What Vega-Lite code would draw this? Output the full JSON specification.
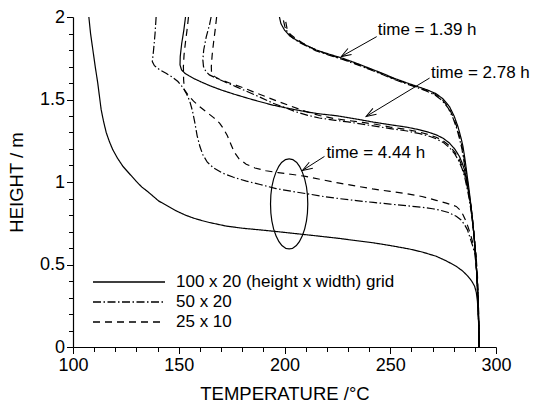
{
  "$schema": "https://vega.github.io/schema/vega-lite/v6.json",
  "width": 423,
  "height": 330,
  "autosize": "none",
  "padding": {"left": 73, "top": 17, "right": 46, "bottom": 59},
  "background": "white",
  "config": {
    "view": {"stroke": null},
    "font": "Liberation Sans",
    "axis": {
      "grid": false,
      "domainColor": "black",
      "domainWidth": 1.2,
      "tickColor": "black",
      "tickWidth": 1,
      "labelColor": "black",
      "labelFont": "Liberation Sans",
      "labelFontSize": 18,
      "labelFlush": false,
      "labelOverlap": false,
      "titleColor": "black",
      "titleFont": "Liberation Sans",
      "titleFontSize": 18.5,
      "titleFontWeight": "normal"
    },
    "legend": {
      "labelFont": "Liberation Sans",
      "labelFontSize": 17,
      "labelColor": "black"
    }
  },
  "resolve": {"axis": {"x": "independent", "y": "independent"}},
  "datasets": {
    "arrows": [
      {"T": 243.6, "H": 1.881, "T2": 226.8, "H2": 1.76},
      {"T": 268.6, "H": 1.63, "T2": 238.6, "H2": 1.397},
      {"T": 218.9, "H": 1.155, "T2": 208.5, "H2": 1.07}
    ]
  },
  "layer": [
    {
      "data": {"values": [
        {"grid": "100 x 20 (height x width) grid", "time": "1.39", "T": 197.6, "H": 2.0},
        {"grid": "100 x 20 (height x width) grid", "time": "1.39", "T": 198.3, "H": 1.96},
        {"grid": "100 x 20 (height x width) grid", "time": "1.39", "T": 200, "H": 1.921},
        {"grid": "100 x 20 (height x width) grid", "time": "1.39", "T": 202.5, "H": 1.885},
        {"grid": "100 x 20 (height x width) grid", "time": "1.39", "T": 205.5, "H": 1.861},
        {"grid": "100 x 20 (height x width) grid", "time": "1.39", "T": 210, "H": 1.83},
        {"grid": "100 x 20 (height x width) grid", "time": "1.39", "T": 215, "H": 1.80},
        {"grid": "100 x 20 (height x width) grid", "time": "1.39", "T": 221, "H": 1.775},
        {"grid": "100 x 20 (height x width) grid", "time": "1.39", "T": 227.5, "H": 1.75},
        {"grid": "100 x 20 (height x width) grid", "time": "1.39", "T": 234, "H": 1.72},
        {"grid": "100 x 20 (height x width) grid", "time": "1.39", "T": 240, "H": 1.69},
        {"grid": "100 x 20 (height x width) grid", "time": "1.39", "T": 246, "H": 1.66},
        {"grid": "100 x 20 (height x width) grid", "time": "1.39", "T": 252, "H": 1.628},
        {"grid": "100 x 20 (height x width) grid", "time": "1.39", "T": 258, "H": 1.6},
        {"grid": "100 x 20 (height x width) grid", "time": "1.39", "T": 263, "H": 1.578},
        {"grid": "100 x 20 (height x width) grid", "time": "1.39", "T": 267.5, "H": 1.558},
        {"grid": "100 x 20 (height x width) grid", "time": "1.39", "T": 271.7, "H": 1.535},
        {"grid": "100 x 20 (height x width) grid", "time": "1.39", "T": 275, "H": 1.503},
        {"grid": "100 x 20 (height x width) grid", "time": "1.39", "T": 278, "H": 1.457},
        {"grid": "100 x 20 (height x width) grid", "time": "1.39", "T": 280.2, "H": 1.40},
        {"grid": "100 x 20 (height x width) grid", "time": "1.39", "T": 282, "H": 1.336},
        {"grid": "100 x 20 (height x width) grid", "time": "1.39", "T": 283.4, "H": 1.27},
        {"grid": "100 x 20 (height x width) grid", "time": "1.39", "T": 284.4, "H": 1.215},
        {"grid": "100 x 20 (height x width) grid", "time": "1.39", "T": 285.3, "H": 1.14},
        {"grid": "100 x 20 (height x width) grid", "time": "1.39", "T": 286, "H": 1.074},
        {"grid": "100 x 20 (height x width) grid", "time": "1.39", "T": 287.3, "H": 0.95},
        {"grid": "100 x 20 (height x width) grid", "time": "1.39", "T": 288.5, "H": 0.82},
        {"grid": "100 x 20 (height x width) grid", "time": "1.39", "T": 289.5, "H": 0.69},
        {"grid": "100 x 20 (height x width) grid", "time": "1.39", "T": 290.4, "H": 0.56},
        {"grid": "100 x 20 (height x width) grid", "time": "1.39", "T": 291, "H": 0.42},
        {"grid": "100 x 20 (height x width) grid", "time": "1.39", "T": 291.5, "H": 0.28},
        {"grid": "100 x 20 (height x width) grid", "time": "1.39", "T": 291.9, "H": 0.1},
        {"grid": "100 x 20 (height x width) grid", "time": "1.39", "T": 292, "H": 0.0},

        {"grid": "50 x 20", "time": "1.39", "T": 199.5, "H": 1.98},
        {"grid": "50 x 20", "time": "1.39", "T": 200.2, "H": 1.94},
        {"grid": "50 x 20", "time": "1.39", "T": 201.7, "H": 1.90},
        {"grid": "50 x 20", "time": "1.39", "T": 204.2, "H": 1.87},
        {"grid": "50 x 20", "time": "1.39", "T": 207.2, "H": 1.845},
        {"grid": "50 x 20", "time": "1.39", "T": 211, "H": 1.82},
        {"grid": "50 x 20", "time": "1.39", "T": 215, "H": 1.795},
        {"grid": "50 x 20", "time": "1.39", "T": 221, "H": 1.769},
        {"grid": "50 x 20", "time": "1.39", "T": 227.5, "H": 1.743},
        {"grid": "50 x 20", "time": "1.39", "T": 234, "H": 1.713},
        {"grid": "50 x 20", "time": "1.39", "T": 240, "H": 1.683},
        {"grid": "50 x 20", "time": "1.39", "T": 246, "H": 1.653},
        {"grid": "50 x 20", "time": "1.39", "T": 252, "H": 1.621},
        {"grid": "50 x 20", "time": "1.39", "T": 258, "H": 1.593},
        {"grid": "50 x 20", "time": "1.39", "T": 263, "H": 1.571},
        {"grid": "50 x 20", "time": "1.39", "T": 267.3, "H": 1.55},
        {"grid": "50 x 20", "time": "1.39", "T": 271.3, "H": 1.526},
        {"grid": "50 x 20", "time": "1.39", "T": 274.5, "H": 1.494},
        {"grid": "50 x 20", "time": "1.39", "T": 277.4, "H": 1.448},
        {"grid": "50 x 20", "time": "1.39", "T": 279.6, "H": 1.39},
        {"grid": "50 x 20", "time": "1.39", "T": 281.4, "H": 1.326},
        {"grid": "50 x 20", "time": "1.39", "T": 282.8, "H": 1.26},
        {"grid": "50 x 20", "time": "1.39", "T": 283.9, "H": 1.20},
        {"grid": "50 x 20", "time": "1.39", "T": 284.8, "H": 1.13},
        {"grid": "50 x 20", "time": "1.39", "T": 285.6, "H": 1.06},
        {"grid": "50 x 20", "time": "1.39", "T": 287, "H": 0.95},
        {"grid": "50 x 20", "time": "1.39", "T": 288.5, "H": 0.82},
        {"grid": "50 x 20", "time": "1.39", "T": 289.5, "H": 0.69},
        {"grid": "50 x 20", "time": "1.39", "T": 290.4, "H": 0.56},
        {"grid": "50 x 20", "time": "1.39", "T": 291, "H": 0.42},
        {"grid": "50 x 20", "time": "1.39", "T": 291.5, "H": 0.28},
        {"grid": "50 x 20", "time": "1.39", "T": 291.9, "H": 0.1},
        {"grid": "50 x 20", "time": "1.39", "T": 292, "H": 0.0},

        {"grid": "25 x 10", "time": "1.39", "T": 200.6, "H": 1.97},
        {"grid": "25 x 10", "time": "1.39", "T": 201.2, "H": 1.93},
        {"grid": "25 x 10", "time": "1.39", "T": 202.7, "H": 1.895},
        {"grid": "25 x 10", "time": "1.39", "T": 205.2, "H": 1.87},
        {"grid": "25 x 10", "time": "1.39", "T": 208.2, "H": 1.845},
        {"grid": "25 x 10", "time": "1.39", "T": 211.7, "H": 1.82},
        {"grid": "25 x 10", "time": "1.39", "T": 215.5, "H": 1.797},
        {"grid": "25 x 10", "time": "1.39", "T": 221, "H": 1.771},
        {"grid": "25 x 10", "time": "1.39", "T": 227.5, "H": 1.746},
        {"grid": "25 x 10", "time": "1.39", "T": 234, "H": 1.716},
        {"grid": "25 x 10", "time": "1.39", "T": 240, "H": 1.686},
        {"grid": "25 x 10", "time": "1.39", "T": 246, "H": 1.656},
        {"grid": "25 x 10", "time": "1.39", "T": 252, "H": 1.624},
        {"grid": "25 x 10", "time": "1.39", "T": 258, "H": 1.596},
        {"grid": "25 x 10", "time": "1.39", "T": 263, "H": 1.574},
        {"grid": "25 x 10", "time": "1.39", "T": 267.4, "H": 1.553},
        {"grid": "25 x 10", "time": "1.39", "T": 271.5, "H": 1.53},
        {"grid": "25 x 10", "time": "1.39", "T": 274.7, "H": 1.498},
        {"grid": "25 x 10", "time": "1.39", "T": 277.6, "H": 1.452},
        {"grid": "25 x 10", "time": "1.39", "T": 279.8, "H": 1.394},
        {"grid": "25 x 10", "time": "1.39", "T": 281.6, "H": 1.33},
        {"grid": "25 x 10", "time": "1.39", "T": 283, "H": 1.264},
        {"grid": "25 x 10", "time": "1.39", "T": 284.1, "H": 1.207},
        {"grid": "25 x 10", "time": "1.39", "T": 285, "H": 1.135},
        {"grid": "25 x 10", "time": "1.39", "T": 285.8, "H": 1.066},
        {"grid": "25 x 10", "time": "1.39", "T": 287.1, "H": 0.95},
        {"grid": "25 x 10", "time": "1.39", "T": 288.5, "H": 0.82},
        {"grid": "25 x 10", "time": "1.39", "T": 289.5, "H": 0.69},
        {"grid": "25 x 10", "time": "1.39", "T": 290.4, "H": 0.56},
        {"grid": "25 x 10", "time": "1.39", "T": 291, "H": 0.42},
        {"grid": "25 x 10", "time": "1.39", "T": 291.5, "H": 0.28},
        {"grid": "25 x 10", "time": "1.39", "T": 291.9, "H": 0.1},
        {"grid": "25 x 10", "time": "1.39", "T": 292, "H": 0.0},

        {"grid": "100 x 20 (height x width) grid", "time": "2.78", "T": 153.2, "H": 2.0},
        {"grid": "100 x 20 (height x width) grid", "time": "2.78", "T": 152.4, "H": 1.92},
        {"grid": "100 x 20 (height x width) grid", "time": "2.78", "T": 151.4, "H": 1.84},
        {"grid": "100 x 20 (height x width) grid", "time": "2.78", "T": 150.7, "H": 1.76},
        {"grid": "100 x 20 (height x width) grid", "time": "2.78", "T": 150.6, "H": 1.71},
        {"grid": "100 x 20 (height x width) grid", "time": "2.78", "T": 151.3, "H": 1.68},
        {"grid": "100 x 20 (height x width) grid", "time": "2.78", "T": 152.8, "H": 1.66},
        {"grid": "100 x 20 (height x width) grid", "time": "2.78", "T": 155, "H": 1.643},
        {"grid": "100 x 20 (height x width) grid", "time": "2.78", "T": 157.5, "H": 1.625},
        {"grid": "100 x 20 (height x width) grid", "time": "2.78", "T": 160.5, "H": 1.607},
        {"grid": "100 x 20 (height x width) grid", "time": "2.78", "T": 165, "H": 1.582},
        {"grid": "100 x 20 (height x width) grid", "time": "2.78", "T": 170, "H": 1.558},
        {"grid": "100 x 20 (height x width) grid", "time": "2.78", "T": 176, "H": 1.533},
        {"grid": "100 x 20 (height x width) grid", "time": "2.78", "T": 182, "H": 1.51},
        {"grid": "100 x 20 (height x width) grid", "time": "2.78", "T": 188, "H": 1.488},
        {"grid": "100 x 20 (height x width) grid", "time": "2.78", "T": 194.5, "H": 1.466},
        {"grid": "100 x 20 (height x width) grid", "time": "2.78", "T": 200, "H": 1.451},
        {"grid": "100 x 20 (height x width) grid", "time": "2.78", "T": 205.5, "H": 1.437},
        {"grid": "100 x 20 (height x width) grid", "time": "2.78", "T": 211, "H": 1.424},
        {"grid": "100 x 20 (height x width) grid", "time": "2.78", "T": 216.5, "H": 1.413},
        {"grid": "100 x 20 (height x width) grid", "time": "2.78", "T": 224.4, "H": 1.402},
        {"grid": "100 x 20 (height x width) grid", "time": "2.78", "T": 230, "H": 1.39},
        {"grid": "100 x 20 (height x width) grid", "time": "2.78", "T": 236, "H": 1.377},
        {"grid": "100 x 20 (height x width) grid", "time": "2.78", "T": 242, "H": 1.363},
        {"grid": "100 x 20 (height x width) grid", "time": "2.78", "T": 250, "H": 1.347},
        {"grid": "100 x 20 (height x width) grid", "time": "2.78", "T": 258, "H": 1.332},
        {"grid": "100 x 20 (height x width) grid", "time": "2.78", "T": 264, "H": 1.316},
        {"grid": "100 x 20 (height x width) grid", "time": "2.78", "T": 268.5, "H": 1.30},
        {"grid": "100 x 20 (height x width) grid", "time": "2.78", "T": 271.7, "H": 1.286},
        {"grid": "100 x 20 (height x width) grid", "time": "2.78", "T": 275, "H": 1.265},
        {"grid": "100 x 20 (height x width) grid", "time": "2.78", "T": 278, "H": 1.236},
        {"grid": "100 x 20 (height x width) grid", "time": "2.78", "T": 280.5, "H": 1.20},
        {"grid": "100 x 20 (height x width) grid", "time": "2.78", "T": 282.7, "H": 1.155},
        {"grid": "100 x 20 (height x width) grid", "time": "2.78", "T": 284, "H": 1.115},
        {"grid": "100 x 20 (height x width) grid", "time": "2.78", "T": 285.1, "H": 1.074},
        {"grid": "100 x 20 (height x width) grid", "time": "2.78", "T": 286.2, "H": 1.0},
        {"grid": "100 x 20 (height x width) grid", "time": "2.78", "T": 287.3, "H": 0.92},
        {"grid": "100 x 20 (height x width) grid", "time": "2.78", "T": 288.5, "H": 0.82},
        {"grid": "100 x 20 (height x width) grid", "time": "2.78", "T": 289.5, "H": 0.69},
        {"grid": "100 x 20 (height x width) grid", "time": "2.78", "T": 290.4, "H": 0.56},
        {"grid": "100 x 20 (height x width) grid", "time": "2.78", "T": 291, "H": 0.42},
        {"grid": "100 x 20 (height x width) grid", "time": "2.78", "T": 291.5, "H": 0.28},
        {"grid": "100 x 20 (height x width) grid", "time": "2.78", "T": 291.9, "H": 0.1},
        {"grid": "100 x 20 (height x width) grid", "time": "2.78", "T": 292, "H": 0.0},

        {"grid": "50 x 20", "time": "2.78", "T": 165.3, "H": 2.0},
        {"grid": "50 x 20", "time": "2.78", "T": 164.5, "H": 1.95},
        {"grid": "50 x 20", "time": "2.78", "T": 163, "H": 1.88},
        {"grid": "50 x 20", "time": "2.78", "T": 161.8, "H": 1.80},
        {"grid": "50 x 20", "time": "2.78", "T": 161.4, "H": 1.74},
        {"grid": "50 x 20", "time": "2.78", "T": 161.7, "H": 1.70},
        {"grid": "50 x 20", "time": "2.78", "T": 162.8, "H": 1.67},
        {"grid": "50 x 20", "time": "2.78", "T": 164.5, "H": 1.649},
        {"grid": "50 x 20", "time": "2.78", "T": 168, "H": 1.628},
        {"grid": "50 x 20", "time": "2.78", "T": 172.4, "H": 1.603},
        {"grid": "50 x 20", "time": "2.78", "T": 177, "H": 1.578},
        {"grid": "50 x 20", "time": "2.78", "T": 182, "H": 1.55},
        {"grid": "50 x 20", "time": "2.78", "T": 188.2, "H": 1.515},
        {"grid": "50 x 20", "time": "2.78", "T": 194.5, "H": 1.478},
        {"grid": "50 x 20", "time": "2.78", "T": 200, "H": 1.452},
        {"grid": "50 x 20", "time": "2.78", "T": 205.5, "H": 1.425},
        {"grid": "50 x 20", "time": "2.78", "T": 211, "H": 1.404},
        {"grid": "50 x 20", "time": "2.78", "T": 216.5, "H": 1.388},
        {"grid": "50 x 20", "time": "2.78", "T": 224, "H": 1.374},
        {"grid": "50 x 20", "time": "2.78", "T": 230, "H": 1.364},
        {"grid": "50 x 20", "time": "2.78", "T": 236, "H": 1.352},
        {"grid": "50 x 20", "time": "2.78", "T": 242, "H": 1.34},
        {"grid": "50 x 20", "time": "2.78", "T": 250, "H": 1.324},
        {"grid": "50 x 20", "time": "2.78", "T": 258, "H": 1.309},
        {"grid": "50 x 20", "time": "2.78", "T": 264, "H": 1.293},
        {"grid": "50 x 20", "time": "2.78", "T": 268.5, "H": 1.277},
        {"grid": "50 x 20", "time": "2.78", "T": 271.7, "H": 1.262},
        {"grid": "50 x 20", "time": "2.78", "T": 275, "H": 1.24},
        {"grid": "50 x 20", "time": "2.78", "T": 278, "H": 1.208},
        {"grid": "50 x 20", "time": "2.78", "T": 280.5, "H": 1.17},
        {"grid": "50 x 20", "time": "2.78", "T": 282.5, "H": 1.125},
        {"grid": "50 x 20", "time": "2.78", "T": 284, "H": 1.08},
        {"grid": "50 x 20", "time": "2.78", "T": 285.2, "H": 1.03},
        {"grid": "50 x 20", "time": "2.78", "T": 286.2, "H": 0.97},
        {"grid": "50 x 20", "time": "2.78", "T": 287.3, "H": 0.9},
        {"grid": "50 x 20", "time": "2.78", "T": 288.5, "H": 0.8},
        {"grid": "50 x 20", "time": "2.78", "T": 289.5, "H": 0.69},
        {"grid": "50 x 20", "time": "2.78", "T": 290.4, "H": 0.56},
        {"grid": "50 x 20", "time": "2.78", "T": 291, "H": 0.42},
        {"grid": "50 x 20", "time": "2.78", "T": 291.5, "H": 0.28},
        {"grid": "50 x 20", "time": "2.78", "T": 291.9, "H": 0.1},
        {"grid": "50 x 20", "time": "2.78", "T": 292, "H": 0.0},

        {"grid": "25 x 10", "time": "2.78", "T": 167.9, "H": 2.0},
        {"grid": "25 x 10", "time": "2.78", "T": 167.3, "H": 1.93},
        {"grid": "25 x 10", "time": "2.78", "T": 166.5, "H": 1.85},
        {"grid": "25 x 10", "time": "2.78", "T": 165.8, "H": 1.77},
        {"grid": "25 x 10", "time": "2.78", "T": 165.4, "H": 1.70},
        {"grid": "25 x 10", "time": "2.78", "T": 165.5, "H": 1.66},
        {"grid": "25 x 10", "time": "2.78", "T": 166.8, "H": 1.64},
        {"grid": "25 x 10", "time": "2.78", "T": 169.3, "H": 1.622},
        {"grid": "25 x 10", "time": "2.78", "T": 174, "H": 1.6},
        {"grid": "25 x 10", "time": "2.78", "T": 180.3, "H": 1.572},
        {"grid": "25 x 10", "time": "2.78", "T": 185, "H": 1.548},
        {"grid": "25 x 10", "time": "2.78", "T": 191, "H": 1.518},
        {"grid": "25 x 10", "time": "2.78", "T": 197, "H": 1.488},
        {"grid": "25 x 10", "time": "2.78", "T": 203, "H": 1.46},
        {"grid": "25 x 10", "time": "2.78", "T": 210, "H": 1.428},
        {"grid": "25 x 10", "time": "2.78", "T": 216.5, "H": 1.403},
        {"grid": "25 x 10", "time": "2.78", "T": 223, "H": 1.386},
        {"grid": "25 x 10", "time": "2.78", "T": 230, "H": 1.373},
        {"grid": "25 x 10", "time": "2.78", "T": 237, "H": 1.361},
        {"grid": "25 x 10", "time": "2.78", "T": 243, "H": 1.35},
        {"grid": "25 x 10", "time": "2.78", "T": 250, "H": 1.333},
        {"grid": "25 x 10", "time": "2.78", "T": 258, "H": 1.318},
        {"grid": "25 x 10", "time": "2.78", "T": 264, "H": 1.302},
        {"grid": "25 x 10", "time": "2.78", "T": 268.5, "H": 1.286},
        {"grid": "25 x 10", "time": "2.78", "T": 271.7, "H": 1.271},
        {"grid": "25 x 10", "time": "2.78", "T": 275, "H": 1.25},
        {"grid": "25 x 10", "time": "2.78", "T": 278, "H": 1.219},
        {"grid": "25 x 10", "time": "2.78", "T": 280.5, "H": 1.181},
        {"grid": "25 x 10", "time": "2.78", "T": 282.6, "H": 1.137},
        {"grid": "25 x 10", "time": "2.78", "T": 284.1, "H": 1.09},
        {"grid": "25 x 10", "time": "2.78", "T": 285.3, "H": 1.04},
        {"grid": "25 x 10", "time": "2.78", "T": 286.3, "H": 0.98},
        {"grid": "25 x 10", "time": "2.78", "T": 287.4, "H": 0.905},
        {"grid": "25 x 10", "time": "2.78", "T": 288.5, "H": 0.81},
        {"grid": "25 x 10", "time": "2.78", "T": 289.5, "H": 0.69},
        {"grid": "25 x 10", "time": "2.78", "T": 290.4, "H": 0.56},
        {"grid": "25 x 10", "time": "2.78", "T": 291, "H": 0.42},
        {"grid": "25 x 10", "time": "2.78", "T": 291.5, "H": 0.28},
        {"grid": "25 x 10", "time": "2.78", "T": 291.9, "H": 0.1},
        {"grid": "25 x 10", "time": "2.78", "T": 292, "H": 0.0},

        {"grid": "100 x 20 (height x width) grid", "time": "4.44", "T": 107.5, "H": 2.0},
        {"grid": "100 x 20 (height x width) grid", "time": "4.44", "T": 108.3, "H": 1.9},
        {"grid": "100 x 20 (height x width) grid", "time": "4.44", "T": 109.4, "H": 1.8},
        {"grid": "100 x 20 (height x width) grid", "time": "4.44", "T": 110.5, "H": 1.7},
        {"grid": "100 x 20 (height x width) grid", "time": "4.44", "T": 111.7, "H": 1.6},
        {"grid": "100 x 20 (height x width) grid", "time": "4.44", "T": 112.5, "H": 1.52},
        {"grid": "100 x 20 (height x width) grid", "time": "4.44", "T": 113.3, "H": 1.44},
        {"grid": "100 x 20 (height x width) grid", "time": "4.44", "T": 114.4, "H": 1.37},
        {"grid": "100 x 20 (height x width) grid", "time": "4.44", "T": 115.7, "H": 1.30},
        {"grid": "100 x 20 (height x width) grid", "time": "4.44", "T": 117.2, "H": 1.245},
        {"grid": "100 x 20 (height x width) grid", "time": "4.44", "T": 118.8, "H": 1.196},
        {"grid": "100 x 20 (height x width) grid", "time": "4.44", "T": 121, "H": 1.145},
        {"grid": "100 x 20 (height x width) grid", "time": "4.44", "T": 123.6, "H": 1.095},
        {"grid": "100 x 20 (height x width) grid", "time": "4.44", "T": 126.7, "H": 1.05},
        {"grid": "100 x 20 (height x width) grid", "time": "4.44", "T": 129.9, "H": 1.004},
        {"grid": "100 x 20 (height x width) grid", "time": "4.44", "T": 132.5, "H": 0.97},
        {"grid": "100 x 20 (height x width) grid", "time": "4.44", "T": 135.5, "H": 0.94},
        {"grid": "100 x 20 (height x width) grid", "time": "4.44", "T": 140.5, "H": 0.885},
        {"grid": "100 x 20 (height x width) grid", "time": "4.44", "T": 145.6, "H": 0.848},
        {"grid": "100 x 20 (height x width) grid", "time": "4.44", "T": 149, "H": 0.824},
        {"grid": "100 x 20 (height x width) grid", "time": "4.44", "T": 153, "H": 0.80},
        {"grid": "100 x 20 (height x width) grid", "time": "4.44", "T": 157, "H": 0.781},
        {"grid": "100 x 20 (height x width) grid", "time": "4.44", "T": 161, "H": 0.766},
        {"grid": "100 x 20 (height x width) grid", "time": "4.44", "T": 165, "H": 0.753},
        {"grid": "100 x 20 (height x width) grid", "time": "4.44", "T": 172.4, "H": 0.733},
        {"grid": "100 x 20 (height x width) grid", "time": "4.44", "T": 180, "H": 0.72},
        {"grid": "100 x 20 (height x width) grid", "time": "4.44", "T": 188.2, "H": 0.71},
        {"grid": "100 x 20 (height x width) grid", "time": "4.44", "T": 196, "H": 0.70},
        {"grid": "100 x 20 (height x width) grid", "time": "4.44", "T": 204, "H": 0.689},
        {"grid": "100 x 20 (height x width) grid", "time": "4.44", "T": 212, "H": 0.678},
        {"grid": "100 x 20 (height x width) grid", "time": "4.44", "T": 219, "H": 0.668},
        {"grid": "100 x 20 (height x width) grid", "time": "4.44", "T": 226, "H": 0.658},
        {"grid": "100 x 20 (height x width) grid", "time": "4.44", "T": 233, "H": 0.646},
        {"grid": "100 x 20 (height x width) grid", "time": "4.44", "T": 241.7, "H": 0.632},
        {"grid": "100 x 20 (height x width) grid", "time": "4.44", "T": 250, "H": 0.615},
        {"grid": "100 x 20 (height x width) grid", "time": "4.44", "T": 259, "H": 0.594},
        {"grid": "100 x 20 (height x width) grid", "time": "4.44", "T": 265, "H": 0.576},
        {"grid": "100 x 20 (height x width) grid", "time": "4.44", "T": 271.7, "H": 0.55},
        {"grid": "100 x 20 (height x width) grid", "time": "4.44", "T": 276.5, "H": 0.522},
        {"grid": "100 x 20 (height x width) grid", "time": "4.44", "T": 281.2, "H": 0.489},
        {"grid": "100 x 20 (height x width) grid", "time": "4.44", "T": 284.3, "H": 0.46},
        {"grid": "100 x 20 (height x width) grid", "time": "4.44", "T": 286.7, "H": 0.429},
        {"grid": "100 x 20 (height x width) grid", "time": "4.44", "T": 288.5, "H": 0.40},
        {"grid": "100 x 20 (height x width) grid", "time": "4.44", "T": 289.9, "H": 0.368},
        {"grid": "100 x 20 (height x width) grid", "time": "4.44", "T": 290.7, "H": 0.33},
        {"grid": "100 x 20 (height x width) grid", "time": "4.44", "T": 291.2, "H": 0.28},
        {"grid": "100 x 20 (height x width) grid", "time": "4.44", "T": 291.6, "H": 0.2},
        {"grid": "100 x 20 (height x width) grid", "time": "4.44", "T": 291.9, "H": 0.1},
        {"grid": "100 x 20 (height x width) grid", "time": "4.44", "T": 292, "H": 0.0},

        {"grid": "50 x 20", "time": "4.44", "T": 139.3, "H": 2.0},
        {"grid": "50 x 20", "time": "4.44", "T": 138.8, "H": 1.9},
        {"grid": "50 x 20", "time": "4.44", "T": 138.1, "H": 1.8},
        {"grid": "50 x 20", "time": "4.44", "T": 137.5, "H": 1.73},
        {"grid": "50 x 20", "time": "4.44", "T": 138.5, "H": 1.705},
        {"grid": "50 x 20", "time": "4.44", "T": 141, "H": 1.68},
        {"grid": "50 x 20", "time": "4.44", "T": 144, "H": 1.659},
        {"grid": "50 x 20", "time": "4.44", "T": 147, "H": 1.635},
        {"grid": "50 x 20", "time": "4.44", "T": 149.6, "H": 1.609},
        {"grid": "50 x 20", "time": "4.44", "T": 151.8, "H": 1.575},
        {"grid": "50 x 20", "time": "4.44", "T": 153.5, "H": 1.539},
        {"grid": "50 x 20", "time": "4.44", "T": 155.2, "H": 1.49},
        {"grid": "50 x 20", "time": "4.44", "T": 156.5, "H": 1.43},
        {"grid": "50 x 20", "time": "4.44", "T": 157.6, "H": 1.36},
        {"grid": "50 x 20", "time": "4.44", "T": 158.7, "H": 1.28},
        {"grid": "50 x 20", "time": "4.44", "T": 160, "H": 1.215},
        {"grid": "50 x 20", "time": "4.44", "T": 161.4, "H": 1.165},
        {"grid": "50 x 20", "time": "4.44", "T": 163.5, "H": 1.12},
        {"grid": "50 x 20", "time": "4.44", "T": 166.5, "H": 1.085},
        {"grid": "50 x 20", "time": "4.44", "T": 170.5, "H": 1.055},
        {"grid": "50 x 20", "time": "4.44", "T": 175.6, "H": 1.03},
        {"grid": "50 x 20", "time": "4.44", "T": 182, "H": 1.005},
        {"grid": "50 x 20", "time": "4.44", "T": 188.5, "H": 0.985},
        {"grid": "50 x 20", "time": "4.44", "T": 196, "H": 0.96},
        {"grid": "50 x 20", "time": "4.44", "T": 204, "H": 0.942},
        {"grid": "50 x 20", "time": "4.44", "T": 211, "H": 0.928},
        {"grid": "50 x 20", "time": "4.44", "T": 218.5, "H": 0.912},
        {"grid": "50 x 20", "time": "4.44", "T": 226, "H": 0.899},
        {"grid": "50 x 20", "time": "4.44", "T": 234, "H": 0.887},
        {"grid": "50 x 20", "time": "4.44", "T": 242, "H": 0.876},
        {"grid": "50 x 20", "time": "4.44", "T": 250, "H": 0.866},
        {"grid": "50 x 20", "time": "4.44", "T": 258, "H": 0.856},
        {"grid": "50 x 20", "time": "4.44", "T": 265, "H": 0.847},
        {"grid": "50 x 20", "time": "4.44", "T": 270, "H": 0.838},
        {"grid": "50 x 20", "time": "4.44", "T": 273.3, "H": 0.83},
        {"grid": "50 x 20", "time": "4.44", "T": 277.5, "H": 0.815},
        {"grid": "50 x 20", "time": "4.44", "T": 281.2, "H": 0.792},
        {"grid": "50 x 20", "time": "4.44", "T": 283.5, "H": 0.77},
        {"grid": "50 x 20", "time": "4.44", "T": 285.1, "H": 0.742},
        {"grid": "50 x 20", "time": "4.44", "T": 286.5, "H": 0.71},
        {"grid": "50 x 20", "time": "4.44", "T": 287.5, "H": 0.671},
        {"grid": "50 x 20", "time": "4.44", "T": 288.8, "H": 0.62},
        {"grid": "50 x 20", "time": "4.44", "T": 289.9, "H": 0.57},
        {"grid": "50 x 20", "time": "4.44", "T": 290.7, "H": 0.49},
        {"grid": "50 x 20", "time": "4.44", "T": 291.2, "H": 0.4},
        {"grid": "50 x 20", "time": "4.44", "T": 291.6, "H": 0.28},
        {"grid": "50 x 20", "time": "4.44", "T": 291.9, "H": 0.12},
        {"grid": "50 x 20", "time": "4.44", "T": 292, "H": 0.0},

        {"grid": "25 x 10", "time": "4.44", "T": 154.6, "H": 2.0},
        {"grid": "25 x 10", "time": "4.44", "T": 154, "H": 1.93},
        {"grid": "25 x 10", "time": "4.44", "T": 153.2, "H": 1.85},
        {"grid": "25 x 10", "time": "4.44", "T": 152.5, "H": 1.77},
        {"grid": "25 x 10", "time": "4.44", "T": 152.2, "H": 1.70},
        {"grid": "25 x 10", "time": "4.44", "T": 152.3, "H": 1.62},
        {"grid": "25 x 10", "time": "4.44", "T": 152.7, "H": 1.559},
        {"grid": "25 x 10", "time": "4.44", "T": 154.5, "H": 1.525},
        {"grid": "25 x 10", "time": "4.44", "T": 157, "H": 1.49},
        {"grid": "25 x 10", "time": "4.44", "T": 159.8, "H": 1.458},
        {"grid": "25 x 10", "time": "4.44", "T": 163, "H": 1.425},
        {"grid": "25 x 10", "time": "4.44", "T": 166.5, "H": 1.39},
        {"grid": "25 x 10", "time": "4.44", "T": 169.3, "H": 1.357},
        {"grid": "25 x 10", "time": "4.44", "T": 171.3, "H": 1.32},
        {"grid": "25 x 10", "time": "4.44", "T": 173, "H": 1.28},
        {"grid": "25 x 10", "time": "4.44", "T": 174.6, "H": 1.23},
        {"grid": "25 x 10", "time": "4.44", "T": 176.3, "H": 1.18},
        {"grid": "25 x 10", "time": "4.44", "T": 178.5, "H": 1.14},
        {"grid": "25 x 10", "time": "4.44", "T": 181.9, "H": 1.108},
        {"grid": "25 x 10", "time": "4.44", "T": 186, "H": 1.085},
        {"grid": "25 x 10", "time": "4.44", "T": 191.3, "H": 1.068},
        {"grid": "25 x 10", "time": "4.44", "T": 197, "H": 1.057},
        {"grid": "25 x 10", "time": "4.44", "T": 203, "H": 1.047},
        {"grid": "25 x 10", "time": "4.44", "T": 210, "H": 1.034},
        {"grid": "25 x 10", "time": "4.44", "T": 218, "H": 1.013},
        {"grid": "25 x 10", "time": "4.44", "T": 226, "H": 0.993},
        {"grid": "25 x 10", "time": "4.44", "T": 234, "H": 0.975},
        {"grid": "25 x 10", "time": "4.44", "T": 241.7, "H": 0.958},
        {"grid": "25 x 10", "time": "4.44", "T": 250, "H": 0.943},
        {"grid": "25 x 10", "time": "4.44", "T": 258, "H": 0.929},
        {"grid": "25 x 10", "time": "4.44", "T": 265, "H": 0.912},
        {"grid": "25 x 10", "time": "4.44", "T": 271.7, "H": 0.889},
        {"grid": "25 x 10", "time": "4.44", "T": 276.5, "H": 0.872},
        {"grid": "25 x 10", "time": "4.44", "T": 281.2, "H": 0.852},
        {"grid": "25 x 10", "time": "4.44", "T": 283, "H": 0.83},
        {"grid": "25 x 10", "time": "4.44", "T": 284.4, "H": 0.802},
        {"grid": "25 x 10", "time": "4.44", "T": 285.7, "H": 0.765},
        {"grid": "25 x 10", "time": "4.44", "T": 286.7, "H": 0.731},
        {"grid": "25 x 10", "time": "4.44", "T": 288, "H": 0.68},
        {"grid": "25 x 10", "time": "4.44", "T": 289.1, "H": 0.63},
        {"grid": "25 x 10", "time": "4.44", "T": 290, "H": 0.58},
        {"grid": "25 x 10", "time": "4.44", "T": 290.7, "H": 0.53},
        {"grid": "25 x 10", "time": "4.44", "T": 291.2, "H": 0.44},
        {"grid": "25 x 10", "time": "4.44", "T": 291.6, "H": 0.32},
        {"grid": "25 x 10", "time": "4.44", "T": 291.9, "H": 0.15},
        {"grid": "25 x 10", "time": "4.44", "T": 292, "H": 0.0}
      ]},
      "mark": {"type": "line", "color": "black", "strokeWidth": 1.2, "clip": true},
      "encoding": {
        "x": {
          "field": "T",
          "type": "quantitative",
          "scale": {"domain": [100, 300], "nice": false, "zero": false},
          "axis": {
            "title": "TEMPERATURE /°C",
            "values": [100, 150, 200, 250, 300],
            "format": "d",
            "tickSize": 6.5,
            "labelPadding": 3,
            "titlePadding": 10
          }
        },
        "y": {
          "field": "H",
          "type": "quantitative",
          "scale": {"domain": [0, 2], "nice": false, "zero": false},
          "axis": {
            "title": "HEIGHT / m",
            "values": [0, 0.5, 1, 1.5, 2],
            "format": "~g",
            "tickSize": 6.5,
            "labelPadding": 2,
            "titlePadding": 13
          }
        },
        "detail": {"field": "time", "type": "nominal"},
        "order": {"field": "H", "sort": "descending"},
        "strokeDash": {
          "field": "grid",
          "type": "nominal",
          "scale": {
            "domain": ["100 x 20 (height x width) grid", "50 x 20", "25 x 10"],
            "range": [[1, 0], [8, 2.5, 1.5, 2.5], [7, 5]]
          },
          "legend": {
            "title": null,
            "orient": "bottom-left",
            "offset": 17,
            "padding": 0,
            "rowPadding": 2,
            "symbolType": "M-4,0H4",
            "symbolSize": 324,
            "symbolOffset": 29,
            "labelOffset": 37,
            "symbolStrokeColor": "black",
            "symbolFillColor": "transparent",
            "symbolStrokeWidth": 1.3,
            "labelFontSize": 17,
            "labelLimit": 400
          }
        }
      }
    },
    {
      "data": {"values": [{"T": 202.2, "H": 0.867}]},
      "mark": {
        "type": "point",
        "filled": false,
        "stroke": "black",
        "strokeWidth": 1.2,
        "opacity": 1,
        "shape": "M0,-1C0.2287,-1 0.414,-0.5523 0.414,0C0.414,0.5523 0.2287,1 0,1C-0.2287,1 -0.414,0.5523 -0.414,0C-0.414,-0.5523 -0.2287,-1 0,-1Z",
        "size": 8100
      },
      "encoding": {
        "x": {
          "field": "T",
          "type": "quantitative",
          "axis": {
            "orient": "bottom",
            "values": [110,120,130,140,160,170,180,190,210,220,230,240,260,270,280,290],
            "labels": false,
            "title": null,
            "domain": false,
            "tickSize": 4.5
          }
        },
        "y": {
          "field": "H",
          "type": "quantitative",
          "axis": {
            "orient": "left",
            "values": [0.1,0.2,0.3,0.4,0.6,0.7,0.8,0.9,1.1,1.2,1.3,1.4,1.6,1.7,1.8,1.9],
            "labels": false,
            "title": null,
            "domain": false,
            "tickSize": 4.5
          }
        }
      }
    },
    {
      "data": {"name": "arrows"},
      "mark": {"type": "rule", "color": "black", "strokeWidth": 1},
      "encoding": {
        "x": {"field": "T", "type": "quantitative", "axis": null},
        "y": {"field": "H", "type": "quantitative", "axis": null},
        "x2": {"field": "T2"},
        "y2": {"field": "H2"}
      }
    },
    {
      "data": {"name": "arrows"},
      "mark": {
        "type": "point",
        "filled": false,
        "stroke": "black",
        "strokeWidth": 1,
        "opacity": 1,
        "shape": "M-1,-0.35L0,0L-1,0.35",
        "size": 400,
        "angle": 149
      },
      "encoding": {
        "x": {"field": "T2", "type": "quantitative", "axis": null},
        "y": {"field": "H2", "type": "quantitative", "axis": null}
      }
    },
    {
      "data": {"values": [
        {"T": 244.1, "H": 1.921, "label": "time = 1.39 h"},
        {"T": 269.3, "H": 1.663, "label": "time = 2.78 h"},
        {"T": 219.8, "H": 1.175, "label": "time = 4.44 h"}
      ]},
      "mark": {"type": "text", "align": "left", "baseline": "middle", "fontSize": 17, "font": "Liberation Sans", "color": "black"},
      "encoding": {
        "x": {"field": "T", "type": "quantitative", "axis": null},
        "y": {"field": "H", "type": "quantitative", "axis": null},
        "text": {"field": "label", "type": "nominal"}
      }
    }
  ]
}
